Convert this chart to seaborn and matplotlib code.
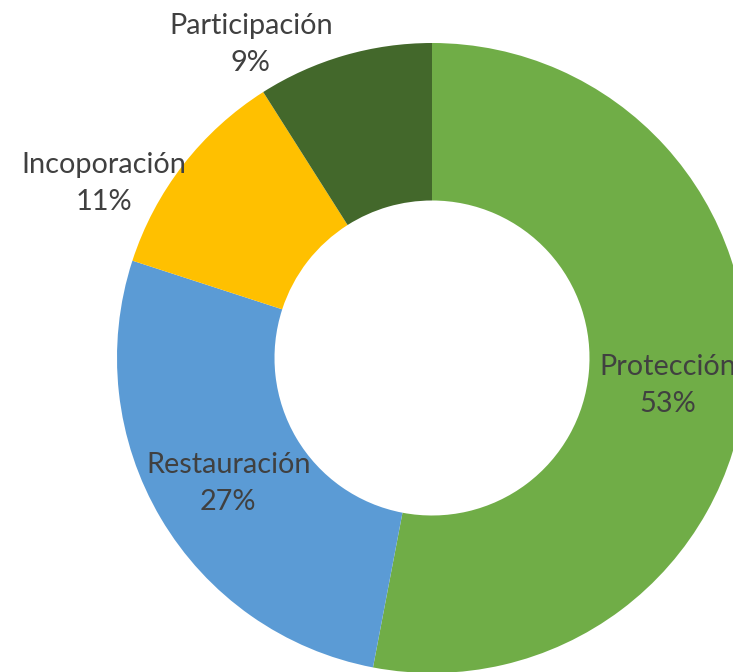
import matplotlib
matplotlib.use("Agg")
import matplotlib.pyplot as plt
import seaborn as sns
import numpy as np

# Data
categories = ["Protección", "Restauración", "Incoporación", "Participación"]
shares = [53, 27, 11, 9]
colors = ["#70AD47", "#5B9BD5", "#FFC000", "#43682B"]

sns.set_theme(style="white")
plt.rcParams['font.family'] = ['Lato', 'DejaVu Sans']

fig = plt.figure(figsize=(7.33, 6.72), dpi=100)
ax = fig.add_axes([0, 0, 1, 1])

wedges, _ = ax.pie(shares, colors=colors, startangle=90, counterclock=False,
                   radius=1.0, wedgeprops=dict(width=0.5, linewidth=0))

# label placement: (radius, angle offset in degrees) relative to wedge middle
# (the Protección label runs off the right edge, as in the original)
label_pos = [(0.755, -1.3), (0.76, 1.1), (1.18, 9.8), (1.15, 13.8)]
for w, cat, val, (r, dang) in zip(wedges, categories, shares, label_pos):
    mid = np.deg2rad((w.theta1 + w.theta2) / 2 + dang)
    ax.text(r * np.cos(mid), r * np.sin(mid), f"{cat}\n{val}%",
            ha="center", va="center", fontsize=20.8, color="#404040",
            linespacing=1.52)

px = 315.0
ax.set_xlim(-432 / px, (733 - 432) / px)
ax.set_ylim(-(672 - 358) / px, 358 / px)
ax.set_aspect("equal")
ax.axis("off")

fig.savefig("out.png", dpi=100)
